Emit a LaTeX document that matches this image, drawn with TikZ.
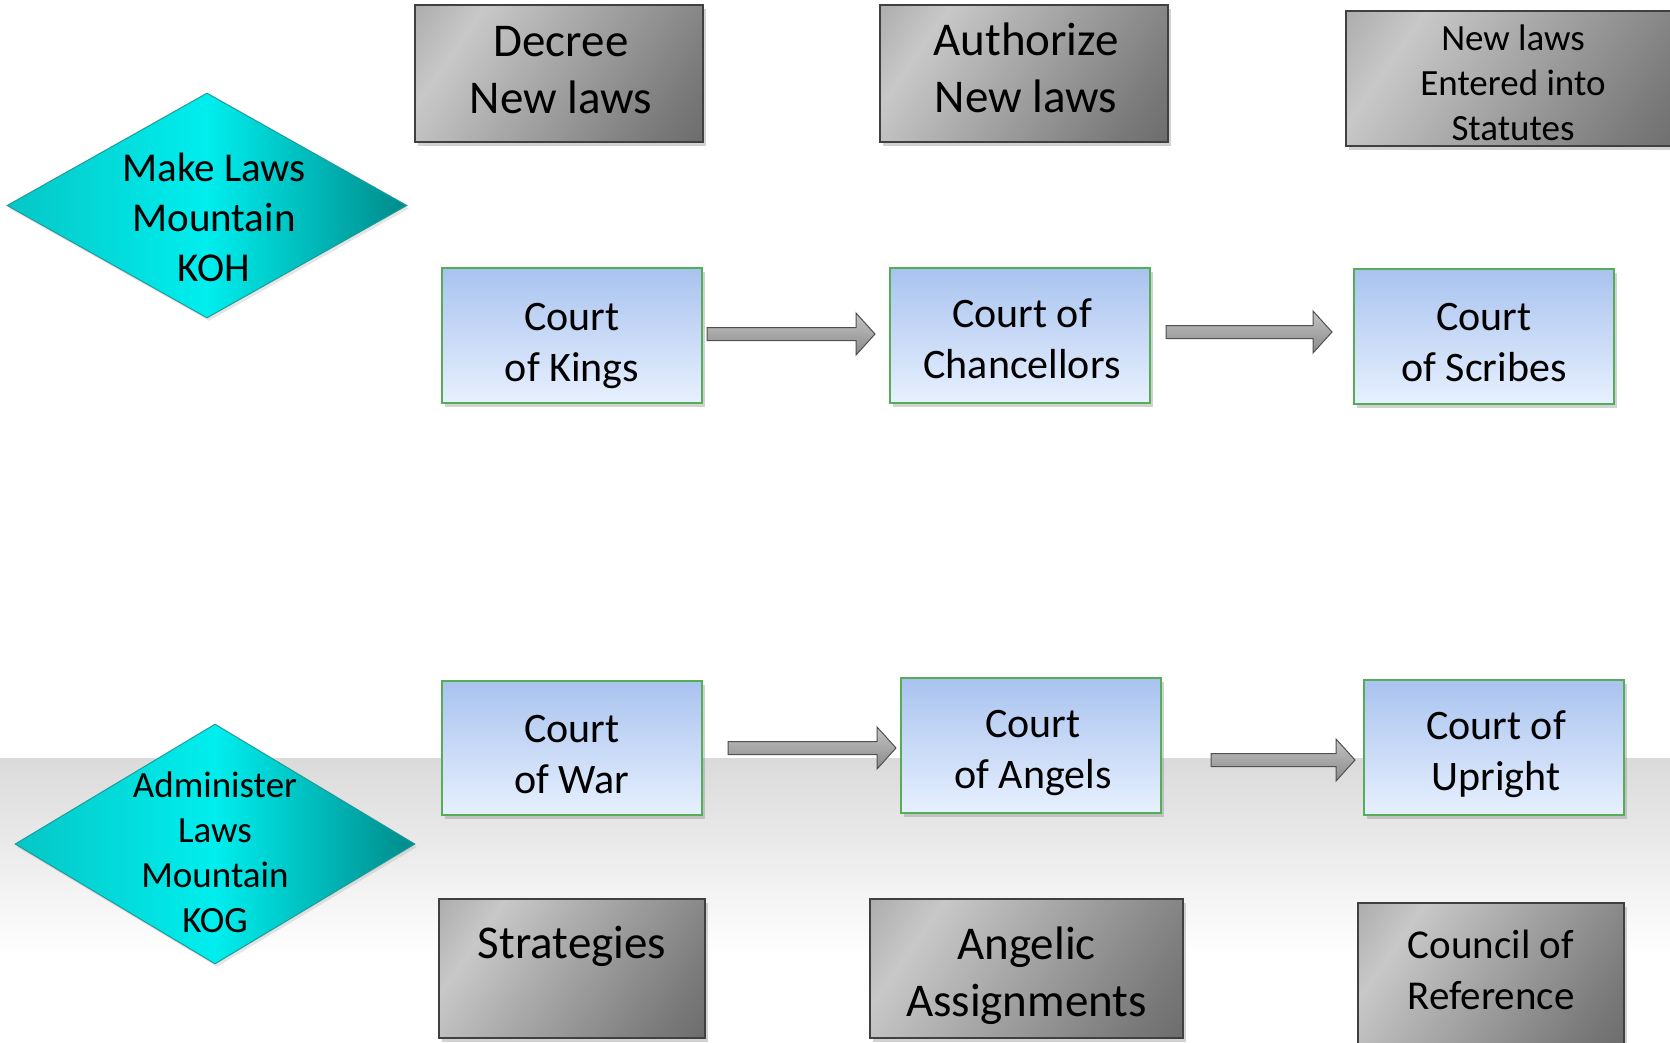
\documentclass[tikz,border=0pt]{standalone}
\usepackage{fontspec}
\setmainfont{Carlito}
\usetikzlibrary{shapes.geometric,shadows,calc}
\definecolor{metA}{HTML}{8C8C8C}
\definecolor{metB}{HTML}{C8C8C8}
\definecolor{metC}{HTML}{ABABAB}
\definecolor{metD}{HTML}{7A7A7A}
\definecolor{metE}{HTML}{585858}
\definecolor{boxLine}{HTML}{404040}
\definecolor{blueTop}{HTML}{A9C3EF}
\definecolor{blueBot}{HTML}{E7F0FE}
\definecolor{greenLine}{HTML}{55AE55}
\definecolor{cyL}{HTML}{06C6C6}
\definecolor{cyM}{HTML}{00EEEE}
\definecolor{cyR}{HTML}{008A8A}
\definecolor{cyLine}{HTML}{1E9C9C}
\definecolor{arrTop}{HTML}{C4C4C4}
\definecolor{arrBot}{HTML}{8A8A8A}
\definecolor{arrLine}{HTML}{505050}
\definecolor{bandTop}{HTML}{DADADA}
\pgfdeclarehorizontalshading{metal}{100bp}{color(0bp)=(metA); color(28bp)=(metB); color(45bp)=(metC); color(75bp)=(metD); color(100bp)=(metE)}
\begin{document}
\begin{tikzpicture}[x=1pt,y=-1pt,
  shadowed/.style={drop shadow={shadow xshift=3pt,shadow yshift=-4pt,opacity=.35}},
  graybox/.style={draw=boxLine, line width=1.5pt, shade, shading=metal, shading angle=-35,
    shadowed, inner sep=0pt, minimum height=137pt},
  gtext/.style={align=center, font=\fontsize{47}{57}\selectfont},
  bluebox/.style={draw=greenLine, line width=2pt, top color=blueTop, bottom color=blueBot,
    shadowed, inner sep=0pt, minimum width=260pt, minimum height=135pt},
  btext/.style={align=center, font=\fontsize{42}{51}\selectfont},
  diam/.style={diamond, draw=cyLine, line width=1pt, left color=cyL, right color=cyR,
    middle color=cyM, inner sep=0pt, minimum width=400pt,
    drop shadow={shadow xshift=2pt,shadow yshift=-3pt,opacity=.2}},
  fatarrow/.style={draw=arrLine, line width=1pt, top color=arrTop, bottom color=arrBot,
    to path={let \p1=(\tikztostart), \p2=(\tikztotarget) in
      (\x1,\y1+6.5pt) -- (\x2-19pt,\y1+6.5pt) -- (\x2-19pt,\y1+21pt) -- (\x2,\y1)
      -- (\x2-19pt,\y1-21pt) -- (\x2-19pt,\y1-6.5pt) -- (\x1,\y1-6.5pt) -- cycle}}
]
\useasboundingbox (0,0) rectangle (1670,1042);
\clip (0,0) rectangle (1670,1042);
% background band
\fill[white] (0,0) rectangle (1670,1042);
\shade[top color=bandTop, bottom color=white] (0,758) rectangle (1670,955);

% diamonds
\node[diam, minimum height=225pt,
  label={[align=center, font=\fontsize{41}{50}\selectfont, xshift=7pt, yshift=-12pt]center:Make Laws\\Mountain\\KOH}]
  (koh) at (207,205.5) {};
\node[diam, minimum height=240pt,
  label={[align=center, font=\fontsize{37}{45}\selectfont, yshift=-8pt]center:Administer\\Laws\\Mountain\\KOG}]
  (kog) at (215,844) {};

% top gray boxes
\node[graybox, minimum width=288pt,
  label={[gtext, xshift=2pt, yshift=3.5pt]center:Decree\\New laws}] (decree) at (559,73.5) {};
\node[graybox, minimum width=288pt,
  label={[gtext, xshift=2pt, yshift=5.5pt]center:Authorize\\New laws}] (authorize) at (1024,73.5) {};
\node[graybox, minimum width=338pt, minimum height=135pt,
  label={[align=center, font=\fontsize{37}{45}\selectfont, xshift=-2pt, yshift=-4pt]center:New laws\\Entered into\\Statutes}]
  (entered) at (1515,78.5) {};

% blue boxes row 1
\node[bluebox, label={[btext, yshift=-10pt]center:Court\\of Kings}] (kings) at (572,335.5) {};
\node[bluebox, label={[btext, xshift=2pt, yshift=-3pt]center:Court of\\Chancellors}] (chanc) at (1020,335.5) {};
\node[bluebox, label={[btext, yshift=-6.5pt]center:Court\\of Scribes}] (scribes) at (1484,336.5) {};

% blue boxes row 2
\node[bluebox, minimum height=134pt, label={[btext, yshift=-6.5pt]center:Court\\of War}] (war) at (572,748) {};
\node[bluebox, label={[btext, xshift=2pt, yshift=-7.5pt]center:Court\\of Angels}] (angels) at (1031,745.5) {};
\node[bluebox, label={[btext, xshift=2pt, yshift=-7pt]center:Court of\\Upright}] (upright) at (1494,747.5) {};

% bottom gray boxes
\node[graybox, minimum width=266pt, minimum height=139pt,
  label={[gtext, yshift=-2pt]center:Strategies\\\mbox{}}] (strat) at (572,968.5) {};
\node[graybox, minimum width=313pt, minimum height=139pt,
  label={[gtext, yshift=-7pt]center:Angelic\\Assignments}] (angelic) at (1026.5,968.5) {};
\node[graybox, minimum width=266pt, minimum height=143pt,
  label={[align=center, font=\fontsize{41}{51}\selectfont, yshift=5pt]center:Council of\\Reference}]
  (council) at (1491,974.5) {};

% arrows
\path[fatarrow] ([xshift=4pt,yshift=1.5pt]kings.east) to ([xshift=-14pt]chanc.west);
\path[fatarrow] ([xshift=15pt,yshift=3.5pt]chanc.east) to ([xshift=-21pt]scribes.west);
\path[fatarrow] ([xshift=25pt]war.east) to ([xshift=-4pt]angels.west);
\path[fatarrow] ([xshift=49pt,yshift=-14.5pt]angels.east) to ([xshift=-8pt]upright.west);
\end{tikzpicture}
\end{document}
